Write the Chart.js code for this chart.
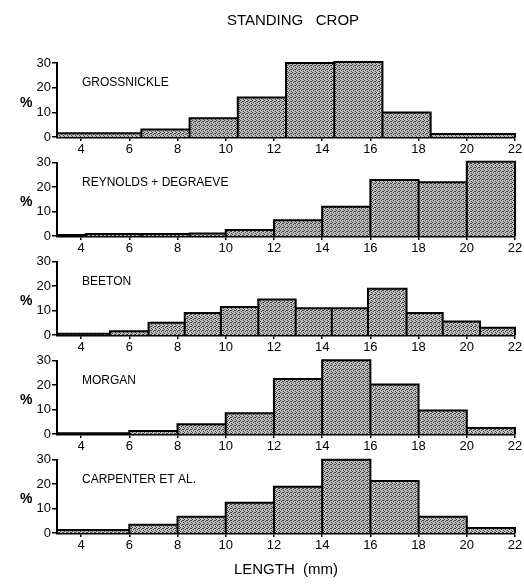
<!DOCTYPE html>
<html>
<head>
<meta charset="utf-8">
<script src="https://cdn.jsdelivr.net/npm/chart.js@4/dist/chart.umd.min.js"></script>
<style>
  html,body{margin:0;padding:0;background:#fff;}
  #wrap{position:relative;width:524px;height:584px;overflow:hidden;}
  #wrap canvas{position:absolute;left:0;}
</style>
</head>
<body>
<div id="wrap"></div>
<script>
// --- data (length in mm, % of standing crop) ---
const panelNames = ["GROSSNICKLE", "REYNOLDS + DEGRAEVE", "BEETON", "MORGAN", "CARPENTER ET AL."];

const grossEdges  = [3, 6.5, 8.5, 10.5, 12.5, 14.5, 16.5, 18.5, 22];
const grossVals   = [1.5, 3, 7.6, 16, 30, 30.4, 9.9, 1.2];

const reynEdges   = [3, 4.2, 6.5, 8.5, 10, 12, 14, 16, 18, 20, 22];
const reynVals    = [0.4, 0.8, 0.8, 1, 2.5, 6.5, 12, 23, 22, 30.4];

const beetonEdges = [3, 5.2, 6.8, 8.3, 9.8, 11.35, 12.9, 14.4, 15.9, 17.5, 19, 20.55, 22];
const beetonVals  = [0.5, 1.5, 5, 9, 11.5, 14.5, 11, 11, 19, 9, 5.5, 3];

const morganEdges = [3, 6, 8, 10, 12, 14, 16, 18, 20, 22];
const morganVals  = [0.3, 1.2, 4, 8.5, 22.5, 30.2, 20.3, 9.6, 2.5];

const carpEdges   = [3, 6, 8, 10, 12, 14, 16, 18, 20, 22];
const carpVals    = [1.2, 3.4, 6.7, 12.4, 19, 30, 21.3, 6.7, 2];

const xTicks = [4, 6, 8, 10, 12, 14, 16, 18, 20, 22];
const yTicks = [0, 10, 20, 30];

const panels = [
  [grossEdges, grossVals], [reynEdges, reynVals], [beetonEdges, beetonVals],
  [morganEdges, morganVals], [carpEdges, carpVals]
];

// outline of every bar as one path: up, across, down, next bar...
function histPoints(edges, vals){
  const pts = [];
  vals.forEach((v,i)=>{
    pts.push({x:edges[i],y:0},{x:edges[i],y:v},{x:edges[i+1],y:v},{x:edges[i+1],y:0});
  });
  return pts;
}

// stippled grey fill
function stipple(){
  const c = document.createElement("canvas"); c.width = 4; c.height = 4;
  const g = c.getContext("2d");
  g.fillStyle = "#bdbdbd"; g.fillRect(0,0,4,4);
  g.fillStyle = "#444";
  [[0,0],[2,1],[1,2],[3,3],[3,1]].forEach(p=>g.fillRect(p[0],p[1],1,1));
  return g.createPattern(c, "repeat");
}
const fillPat = stipple();

const FONT = '"Liberation Sans", Arial, sans-serif';

const panelText = {
  id: "panelText",
  afterDraw(chart, args, opts){
    const {ctx, chartArea:a} = chart;
    const h = a.bottom - a.top;
    ctx.save();
    ctx.fillStyle = "#000";
    ctx.textBaseline = "middle";
    ctx.font = "12px " + FONT;
    ctx.fillText(opts.name, a.left + 25, a.bottom - 0.73*h);
    ctx.font = "bold 14px " + FONT;
    ctx.fillText("%", 20, a.bottom - 0.46*h);
    if(opts.title){
      ctx.font = "15px " + FONT;
      ctx.textAlign = "center";
      ctx.fillText(opts.title, 293, 21);
    }
    ctx.restore();
  }
};

const wrap = document.getElementById("wrap");
const AREA_H = 74, STEP = 99, FIRST_TOP = 63, PAD_TOP = 8;

panels.forEach(([edges, vals], i)=>{
  const last = i === panels.length-1;
  const first = i === 0;
  const xH = last ? 46 : 24;
  const areaTop = FIRST_TOP + STEP*i;
  const padTop = first ? areaTop : PAD_TOP;
  const cv = document.createElement("canvas");
  const H = padTop + AREA_H + xH;
  cv.style.top = (areaTop - padTop) + "px";
  cv.style.width = "524px"; cv.style.height = H + "px";
  cv.width = 524; cv.height = H;
  wrap.appendChild(cv);

  new Chart(cv, {
    type: "line",
    data: { datasets: [{
      data: histPoints(edges, vals),
      borderColor: "#000", borderWidth: 2, borderJoinStyle: "miter",
      backgroundColor: fillPat, fill: "origin", clip: false,
      pointRadius: 0, tension: 0
    }]},
    options: {
      responsive: false, animation: false, devicePixelRatio: 1,
      layout: { padding: { top: padTop, right: 9, left: 0, bottom: 0 } },
      plugins: {
        legend: { display: false }, tooltip: { enabled: false },
        panelText: { name: panelNames[i], title: first ? "STANDING   CROP" : null }
      },
      scales: {
        x: {
          type: "linear", min: 3, max: 22,
          afterBuildTicks: s => { s.ticks = xTicks.map(v=>({value:v})); },
          afterFit: s => { s.height = xH; },
          grid: { drawOnChartArea: false, drawTicks: true, tickLength: 4, color: "#000", lineWidth: 1.5 },
          border: { display: true, color: "#000", width: 2.5 },
          ticks: { color: "#000", font: { family: FONT, size: 13 }, padding: 1, maxRotation: 0 },
          title: { display: last, text: "LENGTH  (mm)", color: "#000", font: { family: FONT, size: 15 }, padding: 0 }
        },
        y: {
          min: 0, max: 30,
          afterBuildTicks: s => { s.ticks = yTicks.map(v=>({value:v})); },
          afterFit: s => { s.width = 57; },
          grid: { drawOnChartArea: false, drawTicks: true, tickLength: 5, color: "#000", lineWidth: 1.5 },
          border: { display: true, color: "#000", width: 2 },
          ticks: { color: "#000", font: { family: FONT, size: 13 }, padding: 1 }
        }
      }
    },
    plugins: [panelText]
  });
});
</script>
</body>
</html>
